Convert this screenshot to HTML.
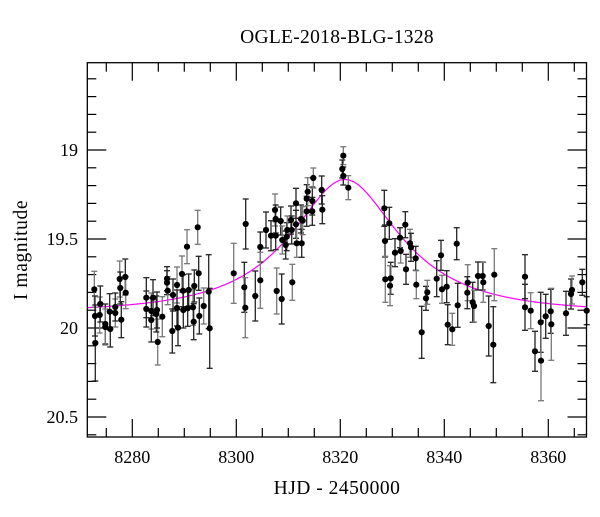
<!DOCTYPE html>
<html><head><meta charset="utf-8"><style>
html,body{margin:0;padding:0;background:#fff;}
svg text{font-family:"Liberation Serif",serif;fill:#000;}
</style></head><body>
<svg id="s" width="600" height="512" viewBox="0 0 600 512" xmlns="http://www.w3.org/2000/svg">
<text x="337" y="43" font-size="19.5" text-anchor="middle" letter-spacing="0.3">OGLE-2018-BLG-1328</text>
<text x="337" y="494" font-size="19.5" text-anchor="middle" letter-spacing="0.5">HJD - 2450000</text>
<text x="0" y="0" font-size="19.5" text-anchor="middle" letter-spacing="0.6" transform="translate(27,250) rotate(-90)">I magnitude</text>
<text x="132.3" y="463" font-size="18" text-anchor="middle">8280</text>
<text x="236.3" y="463" font-size="18" text-anchor="middle">8300</text>
<text x="340.3" y="463" font-size="18" text-anchor="middle">8320</text>
<text x="444.3" y="463" font-size="18" text-anchor="middle">8340</text>
<text x="548.3" y="463" font-size="18" text-anchor="middle">8360</text>
<text x="78" y="156" font-size="18" text-anchor="end">19</text>
<text x="78" y="245" font-size="18" text-anchor="end">19.5</text>
<text x="78" y="334" font-size="18" text-anchor="end">20</text>
<text x="78" y="423" font-size="18" text-anchor="end">20.5</text>
<g id="ax" stroke="#000" stroke-width="1.2" fill="none"></g>
<g id="dat"></g>
<rect x="87.3" y="62.7" width="499.2" height="374.3" fill="none" stroke="#000" stroke-width="1.3"/>
</svg>
<script>
var ns="http://www.w3.org/2000/svg";
function el(p,t,a){var e=document.createElementNS(ns,t);for(var k in a)e.setAttribute(k,a[k]);p.appendChild(e);return e;}
var ax=document.getElementById('ax'),L=87.3,R=586.5,T=62.7,B=437;
function X(t){return 132.3+(t-8280)*5.2;}
function Y(m){return 150+(m-19)*178;}
for(var t=8275;t<=8365;t+=5){var x=X(t),len=(t%20==0)?18:9;
 el(ax,'line',{x1:x,y1:B,x2:x,y2:B-len});el(ax,'line',{x1:x,y1:T,x2:x,y2:T+len});}
for(var i=6;i<=26;i++){var m=18+i*0.1,y=Y(m),len=(i%5==0)?19:9;
 el(ax,'line',{x1:L,y1:y,x2:L+len,y2:y});el(ax,'line',{x1:R,y1:y,x2:R-len,y2:y});}
var d=document.getElementById('dat');
function A(u){return (u*u+2)/(u*Math.sqrt(u*u+4));}
var pts=[];for(var x=L;x<=R;x+=1){var t=8280+(x-132.3)/5.2,dt=(t-8320.9)/21.9,u=Math.sqrt(0.25+dt*dt);
 pts.push(x.toFixed(1)+','+(312-112*(A(u)-1)).toFixed(1));}
el(d,'polyline',{points:pts.join(' '),fill:'none',stroke:'#f0f','stroke-width':1.2});
var P=[[94.3,289.3,18],[95.3,343,38],[95,316,20],[99.7,315,18],[100.3,304,18],[105.3,324,20],[105.3,327,18],[109.7,311.7,18],[110.3,329,18],[115.3,313,14],[115.3,307,14],[121.3,319.7,18],[119.7,279,18],[120.3,288,16],[125.3,277,18],[125.7,292.7,16],
[146.3,297.7,20],[146.3,309,18],[151.3,311,18],[151.3,320,22],[153,297.7,18],[157.7,342,23],[156.3,314,18],[157,310,18],[162.3,316.7,20],[167,278.7,12],[167,282.7,12],[167.7,290.7,14],[172.3,331,22],[173,295,16],[177,285,18],[177,308,18],[178,327.7,18],[182,274,18],[183,290.7,16],[183.3,310,18],[187,246.7,17],[187.7,308.3,18],[188.7,290,16],[193,307.3,18],[193.7,321.7,18],[194.3,286,16],[197.7,227.3,17],[198.7,273.3,17],[199.3,316,18],[203.7,306,18],[208.7,291.7,37],[209.7,328.3,40],
[233.7,273.3,30],[245.7,224,25],[244.3,287.3,25],[245.3,307.7,30],[255.3,296,25],[260.3,247,15],[260.3,280.3,28],[266,230,18],[271,235.7,15],[275,210,16],[275.7,219,14],[275.7,235.7,14],[276.7,291,23],[280.7,221,14],[281.7,299,25],[282.3,240,14],[285.7,245,14],[286.7,236.7,14],[287.3,230,14],[291,220,14],[291.7,230,14],[292.3,282.3,18],[296,203.3,15],[296,224.3,14],[296.7,243.3,14],[301,219,14],[301.7,243.3,14],[302.7,220.7,14],[306.7,211.3,15],[306.7,198.7,14],[307.7,191.7,14],[312.3,201,14],[312.3,211.3,14],[313.3,178,10],[321.7,190,14],[322.3,209.7,14],[343.3,155.7,9],[342.3,169,9],[343.3,176,9],[348.3,187.7,12],
[384.3,208.3,18],[385,241,16],[385.3,279.3,23],[389.3,223.3,16],[390.7,278.3,16],[390,285.7,20],[395,252.7,14],[400,237.7,10],[400.7,251,12],[405.3,224.7,13],[406,269.3,15],[410,243.3,14],[411,247.3,14],[415.7,258.3,12],[416.3,284.7,14],[421.7,332.3,26],[426,298.3,12],[427.3,292.3,12],[436.7,278.7,18],[441,255.3,15],[442,289.3,14],[446.7,286.7,16],[447.7,324.7,20],[452.3,329.3,16],[456.7,243.7,16],[457.7,305.3,22],[467.7,282.7,18],[467.3,292.7,16],[472.7,302.3,20],[474,306,16],[478,276,14],[482.7,276,14],[483.3,282.3,20],[488.7,326,30],[493.3,344.7,38],[494.3,274.7,26],
[525,276.7,22],[525,307.3,23],[530.7,310.7,18],[535,351.3,20],[540.7,322.3,30],[541,360.7,40],[545.7,316.3,22],[550.7,311.3,22],[551.3,324.3,36],[566,313.3,22],[571,294,15],[572,290,14],[582.3,282.3,13],[586.7,310.7,14]];
P.forEach(function(p,i){var c=(i%3==0)?'#777':'#222';
 el(d,'line',{x1:p[0],y1:p[1]-p[2],x2:p[0],y2:p[1]+p[2],stroke:c,'stroke-width':1.3});
 el(d,'line',{x1:p[0]-3,y1:p[1]-p[2],x2:p[0]+3,y2:p[1]-p[2],stroke:c,'stroke-width':1.3});
 el(d,'line',{x1:p[0]-3,y1:p[1]+p[2],x2:p[0]+3,y2:p[1]+p[2],stroke:c,'stroke-width':1.3});});
P.forEach(function(p){el(d,'circle',{cx:p[0],cy:p[1],r:3.1,fill:'#000'});});
</script>
</body></html>
